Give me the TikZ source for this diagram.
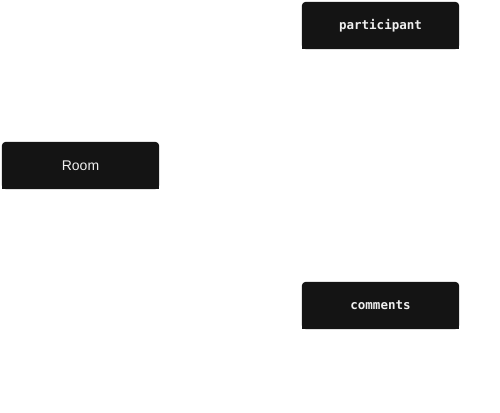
\documentclass[tikz,border=0pt]{standalone}
\usepackage{fontspec}
\setsansfont{Liberation Sans}
\setmonofont{DejaVu Sans Mono}
\usetikzlibrary{backgrounds}
\definecolor{boxfill}{HTML}{141414}
\definecolor{boxtext}{HTML}{F0F0F0}

\begin{document}
\begin{tikzpicture}[
    x=1pt, y=-1pt,
    entity/.style={rectangle, minimum width=157pt, minimum height=47pt, inner sep=0pt, text=boxtext},
    mono/.style={entity, font=\ttfamily\bfseries\fontsize{12.5}{14}\selectfont},
    plain/.style={entity, font=\sffamily\fontsize{14}{16}\selectfont},
    ]
    \useasboundingbox (0,0) rectangle (500,412);
    \node[mono] (participant) at (380.5,25.5) {participant};
    \node[plain] (room) at (80.5,165.5) {Room};
    \node[mono] (comments) at (380.5,305.5) {comments};
    % dark boxes, rounded on top only
    \begin{scope}[on background layer]
    \foreach \n in {participant,room,comments} {
        \fill[boxfill, rounded corners=4pt] (\n.north west) rectangle (\n.south east);
        \fill[boxfill] (\n.west) rectangle (\n.south east);
    }
    \end{scope}
\end{tikzpicture}
\end{document}
